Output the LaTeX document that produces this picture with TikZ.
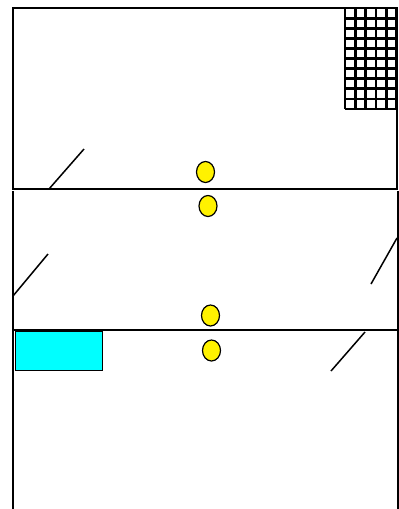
\documentclass[tikz,border=0pt]{standalone}
\usetikzlibrary{shapes.geometric}
\definecolor{aqua}{RGB}{0,255,255}
\begin{document}
\begin{tikzpicture}[x=1pt,y=-1pt,
  wall/.style={draw=black,line width=1.5pt},
  stroke/.style={draw=black,line width=1.5pt},
  ball/.style={ellipse,draw=black,line width=1.2pt,fill=yellow,minimum width=18pt,minimum height=21pt,inner sep=0pt},
  gridline/.style={draw=black,line width=2.8pt}]
\useasboundingbox (0,0) rectangle (399,509);
% top box
\draw[wall] (13,189) -- (13,8) -- (397,8) -- (397,189) -- cycle;
% middle box
\draw[wall] (13,191) -- (13,330) -- (398,330) -- (398,191);
% bottom part
\draw[wall] (13,330) -- (13,509);
\draw[wall] (398,330) -- (398,509);
% grid
\foreach \i in {0,...,5} {\draw[gridline] ({345+\i*10.3},8) -- ({345+\i*10.3},109);}
\foreach \j in {0,...,10} {\draw[gridline] (345,{8+\j*10.1}) -- (397,{8+\j*10.1});}
% cyan box
\node[draw=black,line width=1.5pt,fill=aqua,minimum width=87pt,minimum height=39pt,inner sep=0pt,outer sep=0pt,anchor=north west] (cyanbox) at (15.5,331.5) {};
% balls
\node[ball] (b1) at (205.5,172) {};
\node[ball] (b2) at (208,206) {};
\node[ball] (b3) at (210.5,315.5) {};
\node[ball] (b4) at (211.5,350.5) {};
% diagonal strokes
\coordinate (d1a) at (49,189); \coordinate (d1b) at (84,149);
\coordinate (d2a) at (13,296); \coordinate (d2b) at (48,254);
\coordinate (d3a) at (397,238); \coordinate (d3b) at (371,284);
\coordinate (d4a) at (365,332); \coordinate (d4b) at (331,371);
\draw[stroke] (d1a) -- (d1b);
\draw[stroke] (d2a) -- (d2b);
\draw[stroke] (d3a) -- (d3b);
\draw[stroke] (d4a) -- (d4b);
\end{tikzpicture}
\end{document}
